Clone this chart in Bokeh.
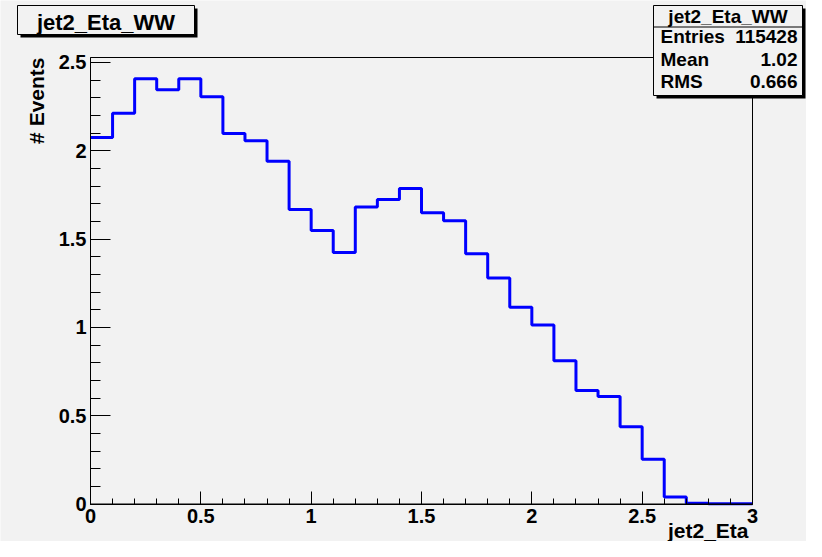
import numpy as np
from bokeh.plotting import figure
from bokeh.models import (Range1d, SingleIntervalTicker, NumeralTickFormatter,
                          BoxAnnotation, Label)
from bokeh.embed import file_html
from bokeh.resources import INLINE

# ---------------- data ----------------
hist_name = "jet2_Eta_WW"
x_title = "jet2_Eta"
y_title = "# Events"
bin_low = 0.0
bin_width = 0.1
bin_values = [2.075, 2.213, 2.408, 2.345, 2.408, 2.306, 2.098, 2.057, 1.941, 1.668,
              1.549, 1.424, 1.681, 1.724, 1.787, 1.649, 1.604, 1.417, 1.279, 1.114,
              1.013, 0.811, 0.643, 0.609, 0.437, 0.254, 0.039, 0.004, 0.002, 0.001]
stats_labels = ["Entries", "Mean", "RMS"]
stats_values = ["115428", "1.02", "0.666"]
x_min, x_max = 0.0, 3.0
y_max = 2.528

edges = np.round(bin_low + bin_width * np.arange(len(bin_values) + 1), 3)
step_y = bin_values + [bin_values[-1]]

# ---------------- layout (pixels) ----------------
BG = "#f2f2f2"
FONT = "Liberation Sans"
W, H = 806, 541
FX0, FX1 = 90.0, 752.0      # pixel x of x_min, x_max
FY0, FY1 = 503.5, 57.0      # pixel y of 0 and y_max
sx = (FX1 - FX0) / (x_max - x_min)
sy = (FY0 - FY1) / y_max
BASE = 7                    # label anchor offset to put the baseline where wanted

p = figure(width=W, height=H, output_backend="svg", toolbar_location=None,
           x_range=Range1d(x_min - FX0 / sx, x_max + (W - FX1) / sx),
           y_range=Range1d(-(H - FY0) / sy, FY0 / sy),
           min_border=0, min_border_left=0, min_border_right=0,
           min_border_top=0, min_border_bottom=0)
p.background_fill_color = BG
p.border_fill_color = BG
p.outline_line_color = None
p.grid.visible = False

# ROOT-like frame
p.add_layout(BoxAnnotation(left=x_min, right=x_max, bottom=0, top=y_max,
                           fill_alpha=0, line_color="black", line_width=1,
                           line_alpha=1))

p.step(edges, step_y, mode="after", line_color="#0000ff", line_width=3)

for ax in (p.xaxis[0], p.yaxis[0]):
    ax.fixed_location = 0
    ax.axis_line_color = "black"
    ax.axis_line_width = 1
    ax.major_tick_line_color = "black"
    ax.minor_tick_line_color = "black"
    ax.major_tick_out = 0
    ax.minor_tick_out = 0
    ax.major_label_text_font = FONT
    ax.major_label_text_font_style = "bold"
    ax.major_label_text_font_size = "20px"
    ax.major_label_text_color = "black"
    ax.formatter = NumeralTickFormatter(format="0.[0]")

p.xaxis.bounds = (x_min, x_max)
p.yaxis.bounds = (0, y_max)
p.xaxis.ticker = SingleIntervalTicker(interval=0.5, num_minor_ticks=5)
p.yaxis.ticker = SingleIntervalTicker(interval=0.5, num_minor_ticks=5)
p.xaxis.major_tick_in = 13
p.xaxis.minor_tick_in = 6
p.yaxis.major_tick_in = 20
p.yaxis.minor_tick_in = 10
p.xaxis.major_label_standoff = 5
p.yaxis.major_label_standoff = 4


def text(x, y, s, size, align="left", angle=0.0):
    if angle:
        x = x - BASE
    else:
        y = y - BASE
    p.add_layout(Label(x=x, y=y, x_units="canvas", y_units="canvas", text=s,
                       angle=angle, text_align=align, text_baseline="alphabetic",
                       text_font=FONT, text_font_style="bold",
                       text_font_size=size, text_color="black", level="overlay"))


def box(l, r, t, b, shadow=3):
    kw = dict(left_units="canvas", right_units="canvas", top_units="canvas",
              bottom_units="canvas", level="overlay")
    p.add_layout(BoxAnnotation(left=l + shadow, right=r + shadow, top=t + shadow,
                               bottom=b + shadow, fill_color="black", fill_alpha=1,
                               line_alpha=0, **kw))
    p.add_layout(BoxAnnotation(left=l, right=r, top=t, bottom=b, fill_color=BG,
                               fill_alpha=1, line_color="black", line_width=1,
                               line_alpha=1, **kw))


# axis titles (ROOT style, aligned to the axis ends)
text(43, 57, y_title, "21px", align="right", angle=np.pi / 2)
text(748, 537, x_title, "21px", align="right")

# title box
box(17, 194, 5, 34)
text(105.5, 29, hist_name, "22px", align="center")

# stats box
box(653, 802, 5, 95)
p.add_layout(BoxAnnotation(left=653, right=802, top=26, bottom=27,
                           left_units="canvas", right_units="canvas",
                           top_units="canvas", bottom_units="canvas",
                           fill_color="black", fill_alpha=1, line_alpha=0,
                           level="overlay"))
text(727.5, 23, hist_name, "19px", align="center")
for lab, val, yy in zip(stats_labels, stats_values, [43, 66, 88]):
    text(660, yy, lab, "19px", align="left")
    text(797, yy, val, "19px", align="right")

open("out.html", "w").write(file_html(p, INLINE))
